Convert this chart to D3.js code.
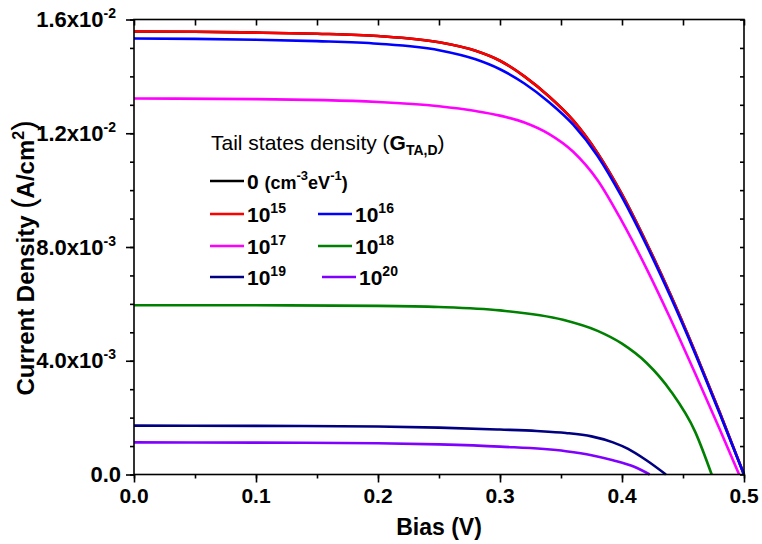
<!DOCTYPE html>
<html><head><meta charset="utf-8">
<script src="https://cdn.jsdelivr.net/npm/d3@7"></script>
<style>
body{margin:0;background:#fff;}
svg text{font-family:Arial,"Liberation Sans",sans-serif;}
</style></head>
<body><svg id="c" width="762" height="544"></svg>
<script>
// ---- data (A/cm^2 x 1e-3 vs V) ----
const bias0   = [0,0.05,0.1,0.15,0.2,0.25,0.28,0.3,0.32,0.34,0.36,0.38,0.4,0.42,0.44,0.46,0.48,0.5];
const jBlack  = [15.58,15.57,15.54,15.5,15.42,15.2,14.9,14.55,14.0,13.3,12.45,11.3,9.85,8.15,6.3,4.3,2.2,0];
const jRed    = [15.58,15.57,15.54,15.5,15.42,15.2,14.9,14.55,14.0,13.3,12.45,11.3,9.85,8.15,6.3,4.3,2.2,0];
const jBlue   = [15.33,15.32,15.29,15.24,15.15,14.92,14.6,14.25,13.75,13.1,12.3,11.2,9.75,8.07,6.23,4.25,2.15,0];
const biasM   = [0,0.1,0.2,0.25,0.28,0.3,0.32,0.34,0.36,0.38,0.4,0.42,0.44,0.46,0.48,0.496];
const jMag    = [13.22,13.2,13.1,12.95,12.78,12.62,12.38,11.98,11.35,10.35,8.9,7.25,5.45,3.55,1.6,0];
const biasG   = [0,0.1,0.2,0.25,0.3,0.3516,0.38,0.4,0.42,0.44,0.46,0.4735];
const jGreen  = [5.95,5.95,5.93,5.89,5.77,5.44,5.05,4.6,3.93,2.93,1.5,0];
const biasN   = [0,0.1,0.2,0.25,0.3,0.33,0.354,0.375,0.3926,0.405,0.42,0.436];
const jNavy   = [1.72,1.71,1.69,1.65,1.58,1.53,1.46,1.34,1.13,0.9,0.5,0];
const biasP   = [0,0.1,0.2,0.25,0.3,0.354,0.375,0.3926,0.41,0.4227];
const jPurple = [1.13,1.12,1.10,1.06,0.98,0.82,0.68,0.5,0.27,0];

const seriesNames  = ["0","15","16","17","18","19","20"];
const seriesColors = ["#000000","#ff0000","#0000ff","#ff00ff","#008000","#000080","#8000ff"];

const xTicks = [0,0.1,0.2,0.3,0.4,0.5];
const xTickLabels = ["0.0","0.1","0.2","0.3","0.4","0.5"];
const yTicks = [0,0.004,0.008,0.012,0.016];
const yTickMant = ["0.0","4.0x10","8.0x10","1.2x10","1.6x10"];
const yTickExp  = ["","-3","-3","-2","-2"];

// ---- build ----
const svg = d3.select("#c");
const L=134,R=744,T=19.5,B=474.5;
const x = d3.scaleLinear().domain([0,0.5]).range([L,R]);
const y = d3.scaleLinear().domain([0,0.016]).range([B,T]);

const series = [
  {b:bias0,j:jBlack},{b:bias0,j:jRed},{b:bias0,j:jBlue},{b:biasM,j:jMag},
  {b:biasG,j:jGreen},{b:biasN,j:jNavy},{b:biasP,j:jPurple}
];

const line = d3.line().x(d=>x(d[0])).y(d=>y(d[1]*1e-3)).curve(d3.curveMonotoneX);
const gLines = svg.append("g");
const order=[0,6,5,4,3,1,2];
order.forEach(i=>{
  const s=series[i];
  gLines.append("path").datum(s.b.map((v,k)=>[v,s.j[k]]))
    .attr("d",line).attr("fill","none").attr("stroke",seriesColors[i]).attr("stroke-width",2.6);
});

// axes
const axStroke=1.6;
const xMinor = d3.range(0,0.5001,0.05);
const yMinor = d3.range(0,0.01601,0.001);
const ga = svg.append("g");
ga.append("rect").attr("x",L).attr("y",T).attr("width",R-L).attr("height",B-T)
  .attr("fill","none").attr("stroke","#000").attr("stroke-width",axStroke);

const axB = d3.axisBottom(x).tickValues(xMinor).tickSize(4).tickFormat("");
ga.append("g").attr("transform",`translate(0,${B})`).call(axB);
const axBMaj = d3.axisBottom(x).tickValues(xTicks).tickSize(8).tickFormat("");
ga.append("g").attr("transform",`translate(0,${B})`).call(axBMaj);
const axT = d3.axisBottom(x).tickValues(xMinor).tickSize(6).tickFormat("");
ga.append("g").attr("transform",`translate(0,${T})`).call(axT);
const axL = d3.axisLeft(y).tickValues(yMinor).tickSize(4).tickFormat("");
ga.append("g").attr("transform",`translate(${L},0)`).call(axL);
const axLMaj = d3.axisLeft(y).tickValues(yTicks).tickSize(8).tickFormat("");
ga.append("g").attr("transform",`translate(${L},0)`).call(axLMaj);
const axR = d3.axisLeft(y).tickValues(yMinor).tickSize(4).tickFormat("");
ga.append("g").attr("transform",`translate(${R},0)`).call(axR);
ga.selectAll(".domain").remove();
ga.selectAll(".tick line").attr("stroke","#000").attr("stroke-width",axStroke);

// tick labels
xTicks.forEach((v,i)=>{
  svg.append("text").attr("x",x(v)).attr("y",503).attr("text-anchor","middle")
    .attr("font-size",21).attr("font-weight","bold").text(xTickLabels[i]);
});
yTicks.forEach((v,i)=>{
  const t=svg.append("text").attr("x",yTickExp[i]?116:121).attr("y",y(v)+7.5).attr("text-anchor","end")
    .attr("font-size",22).attr("font-weight","bold");
  t.append("tspan").text(yTickMant[i]);
  if(yTickExp[i]) t.append("tspan").attr("dy",-9).attr("font-size",14).text(yTickExp[i]);
});

// axis titles
svg.append("text").attr("x",(L+R)/2).attr("y",535).attr("text-anchor","middle")
  .attr("font-size",23).attr("font-weight","bold").text("Bias (V)");
const yt = svg.append("text").attr("transform","translate(34,258) rotate(-90)")
  .attr("text-anchor","middle").attr("font-size",24).attr("font-weight","bold");
yt.append("tspan").text("Current Density ");
yt.append("tspan").attr("font-weight","normal").attr("font-size",31).text("(");
yt.append("tspan").text("A/cm");
yt.append("tspan").attr("dy",-10).attr("font-size",16).text("2");
yt.append("tspan").attr("dy",10).attr("font-weight","normal").attr("font-size",31).text(")");

// legend
const lt = svg.append("text").attr("x",211).attr("y",150).attr("font-size",21);
lt.append("tspan").text("Tail states density (");
lt.append("tspan").attr("font-weight","bold").text("G");
lt.append("tspan").attr("font-weight","bold").attr("font-size",14).attr("dy",5).text("TA,D");
lt.append("tspan").attr("dy",-5).text(")");

const legPos = [[210,181],[210,214],[318,214],[210,246],[318,246],[210,277],[322,277]];
seriesNames.forEach((n,i)=>{
  const [lx,ly]=legPos[i];
  svg.append("line").attr("x1",lx).attr("x2",lx+34).attr("y1",ly).attr("y2",ly)
    .attr("stroke",seriesColors[i]).attr("stroke-width",2.6);
  const t=svg.append("text").attr("x",lx+37).attr("y",ly+8).attr("font-size",21).attr("font-weight","bold");
  if(n==="0"){
    t.append("tspan").text("0 ");
    t.append("tspan").attr("font-size",18).text("(cm");
    t.append("tspan").attr("font-size",13).attr("dy",-9).text("-3");
    t.append("tspan").attr("font-size",18).attr("dy",9).text("eV");
    t.append("tspan").attr("font-size",13).attr("dy",-9).text("-1");
    t.append("tspan").attr("font-size",18).attr("dy",9).text(")");
  } else {
    t.append("tspan").text("10");
    t.append("tspan").attr("font-size",14).attr("dy",-9).text(n);
  }
});
</script></body></html>
